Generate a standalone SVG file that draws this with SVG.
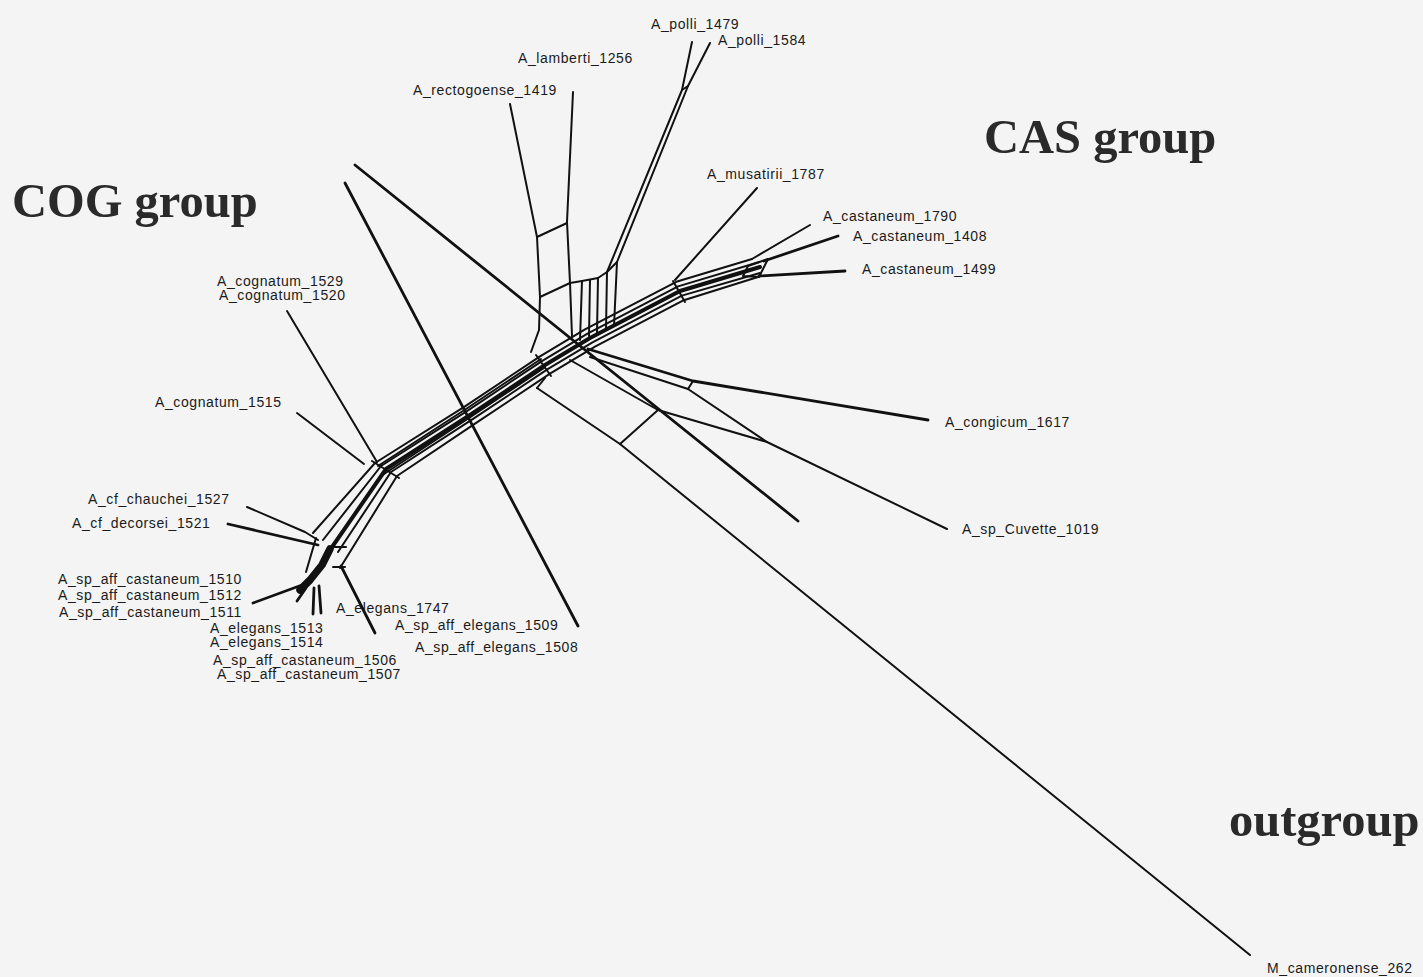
<svg xmlns="http://www.w3.org/2000/svg" width="1423" height="977" viewBox="0 0 1423 977">
<style>
.e{fill:none;stroke:#111;stroke-width:2;stroke-linejoin:round;stroke-linecap:round}
.t{stroke-width:2.8}
.h{stroke-width:4}
.b{stroke-width:7.5}
.lab{font-family:"Liberation Sans",Arial,sans-serif;font-size:14px;letter-spacing:0.6px;fill:#1a1a1a}
.grp{font-family:"Liberation Serif","Times New Roman",serif;font-size:48.5px;font-weight:bold;fill:#2a2a2a}
</style>
<rect width="1423" height="977" fill="#f4f4f4"/>
<g id="edges">
<!-- trunk bundle -->
<polyline class="e" points="313,533 375,463 464.6,406.6 539.6,356.6 585,329.4 676.3,281.8 752,259"/>
<polyline class="e" points="323,540 381,466 467.3,410.8 542.3,360.8 587.5,333.7 678.1,286.4 758.6,262.2"/>
<polyline class="e h" points="330,550 386,469 470,415 545,365 590,338 680,291 760,267"/>
<polyline class="e" points="338,552 391,472 472.7,419.2 547.7,369.2 592.5,342.3 681.9,295.6 760,273"/>
<polyline class="e" points="340,568 345,560 397,476 475.4,423.4 550.4,373.4 595,346.6 683.8,300.2 758,277"/>
<polyline class="e" points="384,474 469,418 544,368"/>
<polyline class="e" points="378,466 466,409 541,359"/>
<line class="e" x1="372" y1="461" x2="399" y2="478"/>
<line class="e" x1="536" y1="355" x2="551" y2="376"/>
<line class="e" x1="673" y1="281" x2="685" y2="302"/>
<!-- lower cluster -->
<line class="e" x1="330" y1="547" x2="346" y2="547"/>
<line class="e" x1="333" y1="567" x2="345" y2="567"/>
<polyline class="e b" points="330,549 322,565 310,580 300,590"/>
<polyline class="e" points="316,538 306,572"/>
<polyline class="e" points="247,507 305,532 318,540"/>
<polyline class="e t" points="228,524 318,545"/>
<polyline class="e t" points="253,603 302,585"/>
<line class="e t" x1="297" y1="601" x2="306" y2="588"/>
<line class="e t" x1="313" y1="614" x2="314" y2="588"/>
<line class="e t" x1="321" y1="613" x2="319" y2="586"/>
<line class="e t" x1="341" y1="566" x2="375" y2="633"/>
<line class="e" x1="297" y1="413" x2="364" y2="464"/>
<line class="e" x1="287" y1="311" x2="377" y2="462"/>
<!-- upper clades -->
<polyline class="e" points="510,104 537,237 540,297 539,330 531,352"/>
<polyline class="e" points="573,92 567,222 570,283 572,336"/>
<line class="e" x1="537" y1="237" x2="567" y2="223"/>
<line class="e" x1="540" y1="297" x2="570" y2="283"/>
<polyline class="e" points="570,283 582,281 598,278 607,272 617,262"/>
<line class="e" x1="582" y1="281" x2="580" y2="340"/>
<line class="e" x1="590" y1="280" x2="589" y2="336"/>
<line class="e" x1="598" y1="278" x2="597" y2="333"/>
<line class="e" x1="607" y1="272" x2="606" y2="329"/>
<line class="e" x1="617" y1="262" x2="614" y2="326"/>
<polyline class="e" points="692,42 682,90 607,272"/>
<polyline class="e" points="710,43 688,86 617,262"/>
<line class="e" x1="682" y1="90" x2="688" y2="86"/>
<line class="e" x1="757" y1="188" x2="675" y2="280"/>
<line class="e" x1="752" y1="259" x2="810" y2="225"/>
<line class="e t" x1="764" y1="261" x2="838" y2="236"/>
<line class="e t" x1="759" y1="276" x2="845" y2="271"/>
<polyline class="e" points="768,259 748,266 743,276 759,277 768,259"/>
<!-- right / lower clades -->
<polyline class="e t" points="588,349 693,381 928,420"/>
<line class="e" x1="590" y1="357" x2="688" y2="389"/>
<line class="e" x1="688" y1="389" x2="693" y2="381"/>
<polyline class="e" points="688,389 767,442 947,529"/>
<line class="e" x1="658" y1="410" x2="767" y2="442"/>
<line class="e" x1="570" y1="360" x2="658" y2="410"/>
<line class="e" x1="545" y1="378" x2="537" y2="388"/>
<line class="e" x1="537" y1="388" x2="620" y2="444"/>
<line class="e" x1="620" y1="444" x2="658" y2="410"/>
<line class="e" x1="620" y1="444" x2="1250" y2="955"/>
<line class="e t" x1="355" y1="165" x2="798" y2="521"/>
<line class="e t" x1="345" y1="183" x2="578" y2="626"/>
</g>
<g id="group-labels">
<text class="grp" x="984" y="153">CAS group</text>
<text class="grp" x="12" y="217">COG group</text>
<text class="grp" x="1229" y="836">outgroup</text>
</g>
<g id="taxa">
<g id="t-polli1479"><text class="lab" x="651" y="29">A_polli_1479</text></g>
<g id="t-polli1584"><text class="lab" x="718" y="45">A_polli_1584</text></g>
<g id="t-lamberti1256"><text class="lab" x="518" y="63">A_lamberti_1256</text></g>
<g id="t-rectogoense1419"><text class="lab" x="413" y="95">A_rectogoense_1419</text></g>
<g id="t-musatirii1787"><text class="lab" x="707" y="179">A_musatirii_1787</text></g>
<g id="t-castaneum1790"><text class="lab" x="823" y="221">A_castaneum_1790</text></g>
<g id="t-castaneum1408"><text class="lab" x="853" y="241">A_castaneum_1408</text></g>
<g id="t-castaneum1499"><text class="lab" x="862" y="274">A_castaneum_1499</text></g>
<g id="t-congicum1617"><text class="lab" x="945" y="427">A_congicum_1617</text></g>
<g id="t-cuvette1019"><text class="lab" x="962" y="534">A_sp_Cuvette_1019</text></g>
<g id="t-cognatum1529"><text class="lab" x="217" y="286">A_cognatum_1529</text></g>
<g id="t-cognatum1520"><text class="lab" x="219" y="300">A_cognatum_1520</text></g>
<g id="t-cognatum1515"><text class="lab" x="155" y="407">A_cognatum_1515</text></g>
<g id="t-chauchei1527"><text class="lab" x="88" y="504">A_cf_chauchei_1527</text></g>
<g id="t-decorsei1521"><text class="lab" x="72" y="528">A_cf_decorsei_1521</text></g>
<g id="t-spaffcast1510"><text class="lab" x="58" y="584">A_sp_aff_castaneum_1510</text></g>
<g id="t-spaffcast1512"><text class="lab" x="58" y="600">A_sp_aff_castaneum_1512</text></g>
<g id="t-spaffcast1511"><text class="lab" x="59" y="617">A_sp_aff_castaneum_1511</text></g>
<g id="t-elegans1747"><text class="lab" x="336" y="613">A_elegans_1747</text></g>
<g id="t-spaffeleg1509"><text class="lab" x="395" y="630">A_sp_aff_elegans_1509</text></g>
<g id="t-spaffeleg1508"><text class="lab" x="415" y="652">A_sp_aff_elegans_1508</text></g>
<g id="t-elegans1513"><text class="lab" x="210" y="633">A_elegans_1513</text></g>
<g id="t-elegans1514"><text class="lab" x="210" y="647">A_elegans_1514</text></g>
<g id="t-spaffcast1506"><text class="lab" x="213" y="665">A_sp_aff_castaneum_1506</text></g>
<g id="t-spaffcast1507"><text class="lab" x="217" y="679">A_sp_aff_castaneum_1507</text></g>
<g id="t-cameronense262"><text class="lab" x="1267" y="973">M_cameronense_262</text></g>
</g>
</svg>
